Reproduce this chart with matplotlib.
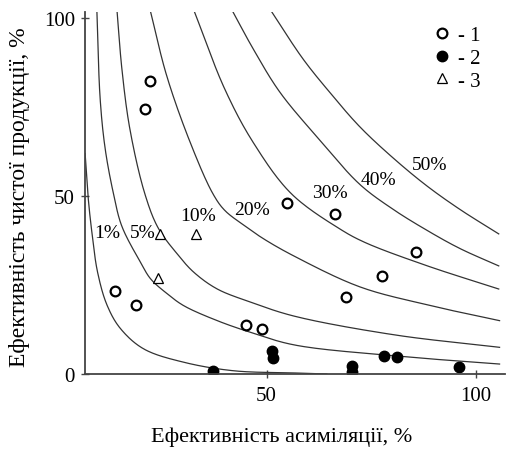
import numpy as np
import matplotlib
matplotlib.use("Agg")
from matplotlib import pyplot as plt

plt.rcParams["font.family"] = ["Liberation Serif", "DejaVu Serif"]

# iso-efficiency curves (product of the two efficiencies)
curve_labels = ["1%", "5%", "10%", "20%", "30%", "40%", "50%"]
c1_x = [6.6, 7.3, 8.2, 9.6, 11.9, 15.1, 20.7, 30.2, 42.2, 56.5, 64.4]
c1_y = [62.0, 50.0, 40.0, 28.5, 19.2, 12.7, 7.0, 3.3, 0.9, 0.3, 0.0]
c5_x = [9.4, 10.2, 11.4, 13.4, 15.4, 19.9, 22.3, 26.3, 30.2, 38.2, 46.2, 56.5, 80.6, 105.7]
c5_y = [102.6, 77.3, 63.3, 50.6, 41.5, 31.3, 26.7, 22.5, 19.2, 15.0, 11.7, 8.2, 5.1, 2.8]
c10_x = [14.2, 15.4, 17.3, 20.9, 24.1, 28.6, 32.6, 38.2, 46.2, 56.5, 80.6, 105.7]
c10_y = [102.6, 85.7, 68.9, 50.6, 41.0, 33.8, 28.6, 23.9, 20.2, 16.3, 11.0, 7.5]
c20_x = [22.1, 26.1, 31.7, 37.2, 40.0, 44.6, 49.3, 56.5, 72.3, 88.2, 105.7]
c20_y = [102.6, 83.9, 65.2, 50.6, 46.0, 41.8, 38.0, 33.2, 24.5, 19.5, 15.0]
c30_x = [32.5, 40.0, 46.8, 56.0, 67.5, 73.5, 88.2, 105.5]
c30_y = [102.6, 80.1, 65.1, 50.6, 40.8, 37.0, 30.5, 23.9]
c40_x = [41.6, 46.8, 53.2, 62.7, 72.3, 80.0, 88.2, 96.2, 105.5]
c40_y = [102.6, 91.4, 79.2, 65.8, 53.3, 46.5, 40.5, 35.3, 30.4]
c50_x = [50.8, 58.7, 65.1, 72.3, 80.2, 88.2, 96.2, 105.5]
c50_y = [102.6, 88.6, 79.2, 69.5, 60.8, 53.0, 46.3, 39.4]
label_x = [11.8, 20.4, 33.7, 46.5, 65.1, 76.8, 89.0]
label_y = [39.8, 39.8, 44.5, 46.4, 51.1, 54.8, 59.0]

# group 1: open circles
g1_x = [13.8, 18.7, 45.1, 48.9, 69.1, 77.6, 85.8, 54.8, 66.3, 22.1, 20.9]
g1_y = [23.4, 19.4, 13.8, 12.7, 21.6, 27.6, 34.2, 48.1, 45.0, 82.3, 74.5]
# group 2: filled circles
g2_x = [37.2, 51.2, 51.6, 70.4, 70.4, 78.1, 81.1, 95.9]
g2_y = [0.9, 6.6, 4.4, 2.3, 0.6, 5.1, 4.9, 1.9]
# group 3: triangles
g3_x = [24.5, 33.0, 24.0]
g3_y = [39.4, 39.4, 26.9]


def smooth(xs, ys, n=25):
    # centripetal catmull-rom through the read points, only to draw them smoothly
    p = np.column_stack([xs, ys]).astype(float)
    p = np.vstack([2 * p[0] - p[1], p, 2 * p[-1] - p[-2]])
    out = []
    for i in range(1, len(p) - 2):
        p0, p1, p2, p3 = p[i - 1], p[i], p[i + 1], p[i + 2]
        t0 = 0.0
        t1 = t0 + np.linalg.norm(p1 - p0) ** 0.5
        t2 = t1 + np.linalg.norm(p2 - p1) ** 0.5
        t3 = t2 + np.linalg.norm(p3 - p2) ** 0.5
        t = np.linspace(t1, t2, n)[:, None]
        a1 = (t1 - t) / (t1 - t0) * p0 + (t - t0) / (t1 - t0) * p1
        a2 = (t2 - t) / (t2 - t1) * p1 + (t - t1) / (t2 - t1) * p2
        a3 = (t3 - t) / (t3 - t2) * p2 + (t - t2) / (t3 - t2) * p3
        b1 = (t2 - t) / (t2 - t0) * a1 + (t - t0) / (t2 - t0) * a2
        b2 = (t3 - t) / (t3 - t1) * a2 + (t - t1) / (t3 - t1) * a3
        out.append((t2 - t) / (t2 - t1) * b1 + (t - t1) / (t2 - t1) * b2)
    out = np.vstack(out)
    return out[:, 0], out[:, 1]


fig = plt.figure(figsize=(5.13, 4.52), dpi=100)
ax = fig.add_axes([84.7 / 513, 1 - 375 / 452, 420.3 / 513, 362 / 452])

curves = [(c1_x, c1_y), (c5_x, c5_y), (c10_x, c10_y), (c20_x, c20_y),
          (c30_x, c30_y), (c40_x, c40_y), (c50_x, c50_y)]
for cx, cy in curves:
    sx, sy = smooth(cx, cy)
    ax.plot(sx, sy, color="#333333", lw=0.9)
for lab, lx, ly in zip(curve_labels, label_x, label_y):
    ax.text(lx, ly, lab, fontsize=14, ha="center", va="center")

ax.plot(g1_x, g1_y, "o", ms=7, mfc="white", mec="black", mew=1.6, ls="none", label="- 1")
ax.plot(g2_x, g2_y, "o", ms=7.5, mfc="black", mec="black", ls="none", label="- 2")
ax.plot(g3_x, g3_y, "^", ms=7.5, mfc="white", mec="black", mew=0.9, ls="none", label="- 3")

ax.legend(loc="upper right", bbox_to_anchor=(0.975, 1.0), frameon=False, fontsize=15,
          handlelength=0.8, handletextpad=0.4, labelspacing=0.15, borderaxespad=0.25)

ax.set_xlim(6.5, 107)
ax.set_ylim(0, 101.8)
ax.set_xticks([50, 100])
ax.set_yticks([0, 50, 100])
ax.tick_params(direction="inout", length=6, width=1, labelsize=15, color="#444444")
ax.tick_params(axis="x", pad=6)
ax.tick_params(axis="y", pad=4)
for s in ["top", "right"]:
    ax.spines[s].set_visible(False)
for s in ["left", "bottom"]:
    ax.spines[s].set_linewidth(1.3)
    ax.spines[s].set_color("#444444")

ax.set_xlabel("Ефективність асиміляції, %", fontsize=16)
ax.xaxis.set_label_coords(0.469, -0.171)
ax.xaxis.label.set_verticalalignment("center")
ax.set_ylabel("Ефективність чистої продукції, %", fontsize=17)
ax.yaxis.set_label_coords(-0.154, 0.49)
ax.yaxis.label.set_verticalalignment("center")

fig.savefig("out.png", dpi=100)
